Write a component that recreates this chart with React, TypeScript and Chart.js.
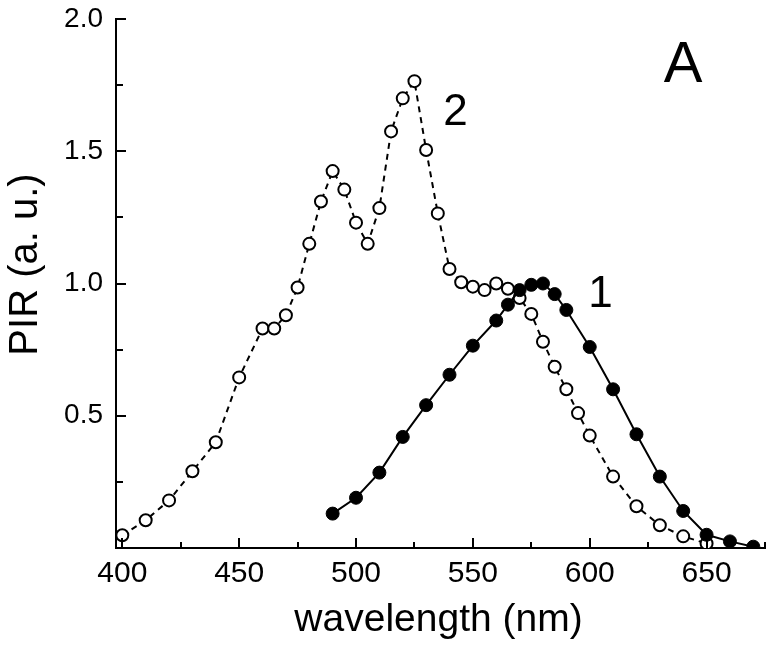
import React, { useEffect, useRef } from "react";
import { Chart, registerables } from "chart.js";

Chart.register(...registerables);

// Series 1 (filled circles, solid line)
const wavelength1 = [490, 500, 510, 520, 530, 540, 550, 560, 565, 570, 575, 580, 585, 590, 600, 610, 620, 630, 640, 650, 660, 670];
const pir1 = [0.13, 0.19, 0.285, 0.42, 0.54, 0.655, 0.765, 0.86, 0.92, 0.975, 0.995, 1.0, 0.96, 0.9, 0.76, 0.6, 0.43, 0.27, 0.14, 0.05, 0.025, 0.005];

// Series 2 (open circles, dashed line)
const wavelength2 = [400, 410, 420, 430, 440, 450, 460, 465, 470, 475, 480, 485, 490, 495, 500, 505, 510, 515, 520, 525, 530, 535, 540, 545, 550, 555, 560, 565, 570, 575, 580, 585, 590, 595, 600, 610, 620, 630, 640, 650];
const pir2 = [0.048, 0.105, 0.18, 0.29, 0.4, 0.645, 0.83, 0.83, 0.88, 0.985, 1.15, 1.31, 1.425, 1.355, 1.23, 1.15, 1.285, 1.575, 1.7, 1.765, 1.505, 1.265, 1.055, 1.005, 0.988, 0.975, 1.0, 0.98, 0.945, 0.885, 0.78, 0.685, 0.6, 0.51, 0.425, 0.27, 0.158, 0.086, 0.044, 0.017];

const xMajorTicks = [400, 450, 500, 550, 600, 650];
const xMinorTicks = [425, 475, 525, 575, 625, 675];
const yMajorTicks = [0.5, 1.0, 1.5, 2.0];
const yMinorTicks = [0.25, 0.75, 1.25, 1.75];

const xTitle = "wavelength (nm)";
const yTitle = "PIR (a. u.)";
const annotations = [
  { text: "A", x: 640, y: 1.761, size: 58 },
  { text: "2", x: 542.6, y: 1.598, size: 44 },
  { text: "1", x: 604.6, y: 0.91, size: 44 },
];

const FONT = '"Liberation Sans", Arial, Helvetica, sans-serif';

export default function App() {
  const ref = useRef<HTMLCanvasElement>(null);

  useEffect(() => {
    const canvas = ref.current;
    if (!canvas) return;

    const decorPlugin = {
      id: "decor",
      afterDraw(chart: any) {
        const { ctx, chartArea, scales } = chart;
        const xs = scales.x;
        const ys = scales.y;
        ctx.save();
        ctx.strokeStyle = "#000";
        ctx.lineWidth = 2;
        const drawX = (v: number, len: number) => {
          const px = Math.round(xs.getPixelForValue(v));
          ctx.beginPath();
          ctx.moveTo(px, chartArea.bottom);
          ctx.lineTo(px, chartArea.bottom - len);
          ctx.stroke();
        };
        const drawY = (v: number, len: number) => {
          const py = Math.round(ys.getPixelForValue(v));
          ctx.beginPath();
          ctx.moveTo(chartArea.left, py);
          ctx.lineTo(chartArea.left + len, py);
          ctx.stroke();
        };
        xMajorTicks.forEach((v) => drawX(v, 10));
        xMinorTicks.forEach((v) => drawX(v, 6));
        yMajorTicks.forEach((v) => drawY(v, 10));
        yMinorTicks.forEach((v) => drawY(v, 7));

        ctx.fillStyle = "#000";
        ctx.textAlign = "center";
        ctx.textBaseline = "alphabetic";
        annotations.forEach((a) => {
          ctx.font = `${a.size}px ${FONT}`;
          ctx.fillText(a.text, xs.getPixelForValue(a.x), ys.getPixelForValue(a.y));
        });
        ctx.font = `39px ${FONT}`;
        ctx.fillText(xTitle, (chartArea.left + chartArea.right) / 2 - 2, 631);
        ctx.save();
        ctx.translate(37, 264.5);
        ctx.rotate(-Math.PI / 2);
        ctx.font = `40px ${FONT}`;
        ctx.fillText(yTitle, 0, 0);
        ctx.restore();
        ctx.restore();
      },
    };

    const chart = new Chart(canvas, {
      type: "line",
      data: {
        datasets: [
          {
            label: "1",
            data: wavelength1.map((x, i) => ({ x, y: pir1[i] })),
            borderColor: "#000",
            borderWidth: 2,
            pointRadius: 6.5,
            pointBorderWidth: 1,
            pointBackgroundColor: "#000",
            pointBorderColor: "#000",
            tension: 0,
          },
          {
            label: "2",
            data: wavelength2.map((x, i) => ({ x, y: pir2[i] })),
            borderColor: "#000",
            borderWidth: 2,
            borderDash: [6, 5],
            pointRadius: 6,
            pointBorderWidth: 2,
            pointBackgroundColor: "#fff",
            pointBorderColor: "#000",
            tension: 0,
          },
        ],
      },
      options: {
        animation: false,
        responsive: false,
        events: [],
        layout: { padding: { top: 19, right: 8, left: 0, bottom: 0 } },
        plugins: { legend: { display: false }, tooltip: { enabled: false } },
        scales: {
          x: {
            type: "linear",
            min: 397.3,
            max: 675,
            grid: { display: false, drawTicks: false },
            border: { display: true, color: "#000", width: 2 },
            ticks: {
              color: "#000",
              font: { family: FONT, size: 30 },
              padding: 8,
              maxRotation: 0,
              autoSkip: false,
            },
            afterBuildTicks: (s: any) => {
              s.ticks = xMajorTicks.map((v) => ({ value: v }));
            },
            afterFit: (s: any) => {
              s.height = 103;
              s.paddingLeft = 0;
              s.paddingRight = 0;
            },
          },
          y: {
            type: "linear",
            min: 0,
            max: 2,
            grid: { display: false, drawTicks: false },
            border: { display: true, color: "#000", width: 2 },
            ticks: {
              color: "#000",
              font: { family: FONT, size: 28 },
              padding: 13,
              autoSkip: false,
              callback: (v: any) => Number(v).toFixed(1),
            },
            afterBuildTicks: (s: any) => {
              s.ticks = yMajorTicks.map((v) => ({ value: v }));
            },
            afterFit: (s: any) => {
              s.width = 116;
              s.paddingTop = 0;
              s.paddingBottom = 0;
            },
          },
        },
      },
      plugins: [decorPlugin],
    });

    return () => chart.destroy();
  }, []);

  return (
    <div style={{ position: "fixed", left: 0, top: 0, width: 773, height: 651, background: "#fff" }}>
      <canvas ref={ref} width={773} height={651} style={{ display: "block" }} />
    </div>
  );
}
